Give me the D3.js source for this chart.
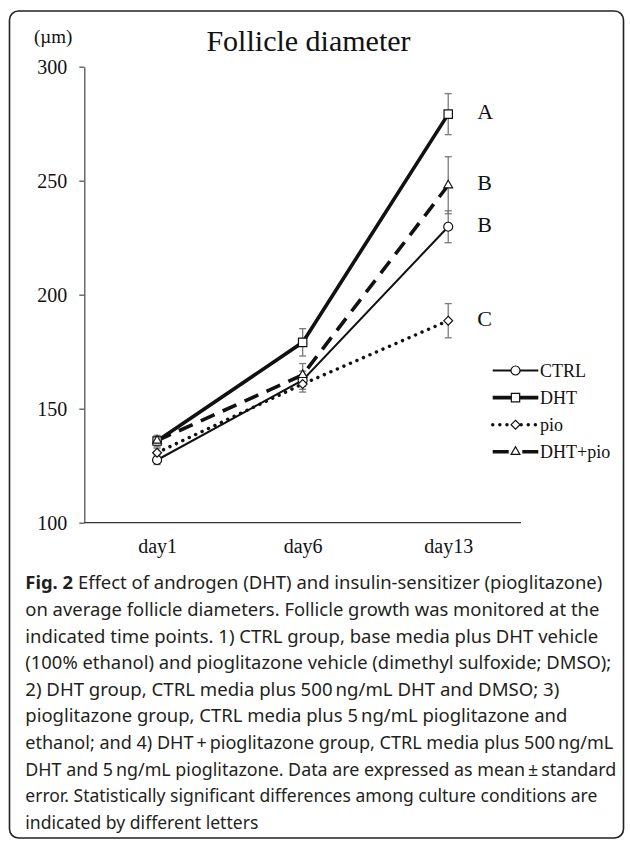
<!DOCTYPE html>
<html lang="en">
<head>
    <meta charset="UTF-8">
    <title>Follicle diameter</title>
    <script src="https://d3js.org/d3.v7.min.js"></script>
    <style>
        body{
            margin: 0;
            background-color: white;
        }
        .serif{
            font-family: "Liberation Serif", "Times New Roman", serif;
            fill: #111;
        }
        .caption{
            font-family: "Noto Sans", "Open Sans", sans-serif;
            font-size: 18px;
            fill: #231f20;
        }
    </style>
</head>
<body>
<svg id="canvas" width="630" height="843"></svg>
<script>
    // values
    let days = ["day1", "day6", "day13"];
    let groups = ["CTRL", "DHT", "pio", "DHT+pio"];
    let ctrlMean = [127.5, 162.5, 229.8];
    let ctrlErr = [2, 4, 7];
    let dhtMean = [135.8, 179.1, 279.2];
    let dhtErr = [2.5, 6, 9];
    let pioMean = [130.7, 160.8, 188.6];
    let pioErr = [2, 3.5, 7.5];
    let dhtPioMean = [136, 164.8, 248];
    let dhtPioErr = [2, 5, 12.5];
    let letters = ["B", "A", "C", "B"];
    let yTicks = [100, 150, 200, 250, 300];

    let captionLines = [
        ["Fig. 2", " Effect of androgen (DHT) and insulin-sensitizer (pioglitazone)", 577],
        ["", "on average follicle diameters. Follicle growth was monitored at the", 574],
        ["", "indicated time points. 1) CTRL group, base media plus DHT vehicle", 573],
        ["", "(100% ethanol) and pioglitazone vehicle (dimethyl sulfoxide; DMSO);", 586],
        ["", "2) DHT group, CTRL media plus 500\u2009ng/mL DHT and DMSO; 3)", 534],
        ["", "pioglitazone group, CTRL media plus 5\u2009ng/mL pioglitazone and", 542],
        ["", "ethanol; and 4) DHT\u2009+\u2009pioglitazone group, CTRL media plus 500\u2009ng/mL", 588],
        ["", "DHT and 5\u2009ng/mL pioglitazone. Data are expressed as mean\u2009\u00b1\u2009standard", 591],
        ["", "error. Statistically significant differences among culture conditions are", 572],
        ["", "indicated by different letters", 233]
    ];

    let series = [
        {name: groups[0], mean: ctrlMean, err: ctrlErr, width: 2, dash: null, legendDash: null, cap: "butt", shape: d3.symbolCircle, size: 64},
        {name: groups[1], mean: dhtMean, err: dhtErr, width: 3.6, dash: null, legendDash: null, cap: "butt", shape: d3.symbolSquare, size: 70},
        {name: groups[2], mean: pioMean, err: pioErr, width: 3.4, dash: "0.1,7", legendDash: "0.1,7", cap: "round", shape: d3.symbolDiamond2, size: 50},
        {name: groups[3], mean: dhtPioMean, err: dhtPioErr, width: 3.6, dash: "15,9", legendDash: "16,13.6", cap: "butt", shape: d3.symbolTriangle2, size: 55}
    ];

    let svg = d3.select("svg");

    // rounded frame
    svg.append("rect")
        .attr("x", 9.5).attr("y", 11)
        .attr("width", 614).attr("height", 827)
        .attr("rx", 9)
        .attr("fill", "none")
        .attr("stroke", "#222")
        .attr("stroke-width", 1.6);

    let x = d3.scalePoint().domain(days).range([84.3, 521]).padding(0.5);
    let y = d3.scaleLinear().domain([100, 300]).range([522.7, 66.7]);

    // axes
    let yAxis = svg.append("g")
        .attr("transform", "translate(84.3,0)")
        .call(d3.axisLeft(y).tickValues(yTicks).tickSize(5).tickPadding(12).tickSizeOuter(0));
    yAxis.select(".domain").attr("stroke", "#555").attr("stroke-width", 1.3);
    yAxis.selectAll(".tick line").attr("stroke", "#555").attr("stroke-width", 1.3);
    yAxis.selectAll(".tick text")
        .attr("class", "serif")
        .style("font-size", "20px");

    let xAxis = svg.append("g")
        .attr("transform", "translate(0,522.7)")
        .call(d3.axisBottom(x).tickSize(0).tickPadding(16));
    xAxis.select(".domain").attr("d", "M84.3,0H521").attr("stroke", "#333").attr("stroke-width", 1.3);
    xAxis.selectAll(".tick text")
        .attr("class", "serif")
        .style("font-size", "20px");

    svg.append("text")
        .attr("class", "serif")
        .attr("x", 34).attr("y", 43)
        .style("font-size", "19px")
        .text("(\u00b5m)");

    svg.append("text")
        .attr("class", "serif")
        .attr("x", 308.5).attr("y", 50.5)
        .attr("text-anchor", "middle")
        .style("font-size", "30px")
        .text("Follicle diameter");

    let line = d3.line()
        .x((d, i) => x(days[i]))
        .y(d => y(d));

    let plot = svg.append("g");

    plot.selectAll("path.series")
        .data(series)
        .join("path")
        .attr("class", "series")
        .attr("d", s => line(s.mean))
        .attr("fill", "none")
        .attr("stroke", "#111")
        .attr("stroke-width", s => s.width)
        .attr("stroke-dasharray", s => s.dash)
        .attr("stroke-linecap", s => s.cap);

    // error bars
    let errs = [];
    series.forEach(s => s.mean.forEach((m, i) => errs.push({day: days[i], m: m, e: s.err[i]})));
    let eg = plot.selectAll("g.err")
        .data(errs)
        .join("g")
        .attr("class", "err")
        .attr("stroke", "#7a7a7a")
        .attr("stroke-width", 1.3);
    eg.append("line")
        .attr("x1", d => x(d.day)).attr("x2", d => x(d.day))
        .attr("y1", d => y(d.m - d.e)).attr("y2", d => y(d.m + d.e));
    eg.append("line")
        .attr("x1", d => x(d.day) - 3.5).attr("x2", d => x(d.day) + 3.5)
        .attr("y1", d => y(d.m - d.e)).attr("y2", d => y(d.m - d.e));
    eg.append("line")
        .attr("x1", d => x(d.day) - 3.5).attr("x2", d => x(d.day) + 3.5)
        .attr("y1", d => y(d.m + d.e)).attr("y2", d => y(d.m + d.e));

    // markers
    series.forEach(s => {
        plot.selectAll(null)
            .data(s.mean)
            .join("path")
            .attr("transform", (d, i) => "translate(" + x(days[i]) + "," + y(d) + ")")
            .attr("d", d3.symbol().type(s.shape).size(s.size))
            .attr("fill", "white")
            .attr("stroke", "#111")
            .attr("stroke-width", 1.2);
    });

    // significance letters
    plot.selectAll("text.letter")
        .data(series)
        .join("text")
        .attr("class", "serif letter")
        .attr("x", s => x(days[2]) + 29)
        .attr("y", s => y(s.mean[2]) + 5)
        .style("font-size", "22px")
        .text((s, i) => letters[i]);

    // legend
    let legend = svg.append("g");
    let lg = legend.selectAll("g")
        .data(series)
        .join("g")
        .attr("transform", (s, i) => "translate(0," + (370.5 + i * 27.1) + ")");
    lg.append("line")
        .attr("x1", 492.7).attr("x2", 538.3)
        .attr("stroke", "#111")
        .attr("stroke-width", s => s.width)
        .attr("stroke-dasharray", s => s.legendDash)
        .attr("stroke-linecap", s => s.cap);
    lg.append("path")
        .attr("transform", "translate(515.5,0)")
        .attr("d", s => d3.symbol().type(s.shape).size(s.size)())
        .attr("fill", "white")
        .attr("stroke", "#111")
        .attr("stroke-width", 1.2);
    lg.append("text")
        .attr("class", "serif")
        .attr("x", 540).attr("y", 6)
        .style("font-size", "18px")
        .text(s => s.name);

    // caption
    let cap = svg.append("g");
    captionLines.forEach((l, i) => {
        let t = cap.append("text")
            .attr("class", "caption")
            .attr("x", 25.3)
            .attr("y", 589.3 + i * 26.6)
            .attr("textLength", l[2])
            .attr("lengthAdjust", "spacingAndGlyphs");
        if (l[0] !== "") t.append("tspan").style("font-weight", "bold").text(l[0]);
        t.append("tspan").text(l[1]);
    });
</script>
</body>
</html>
